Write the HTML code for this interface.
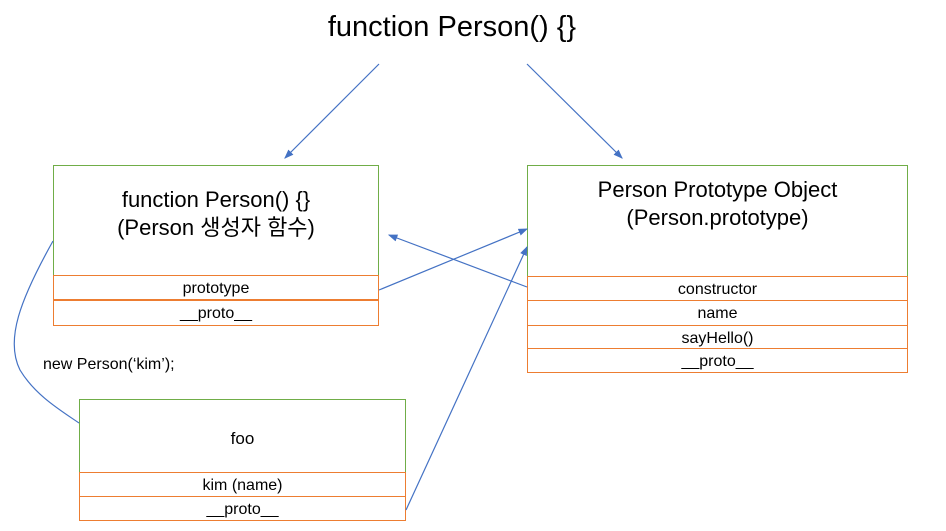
<!DOCTYPE html>
<html><head><meta charset="utf-8"><style>
body{margin:0;width:946px;height:531px;background:#fff;overflow:hidden;position:relative;font-family:"Liberation Sans","Noto Sans CJK KR",sans-serif;color:#000}
.t{position:absolute;white-space:nowrap;text-align:center}
.b{position:absolute;box-sizing:border-box}
.h{border:1px solid #70ad47;border-bottom:none}
.r{border:1px solid #ed7d31;font-size:16px;text-align:center;line-height:22px;padding-top:2px}
</style></head><body>
<div class="t" style="left:0;width:904px;top:11px;font-size:29px">function Person() {}</div>

<div class="b h" style="left:53px;top:165px;width:326px;height:111px"></div>
<div class="t" style="left:53px;width:326px;top:186px;font-size:22px;line-height:28px">function Person() {}<br>(Person 생성자 함수)</div>
<div class="b r" style="left:53px;top:275px;width:326px;height:25px">prototype</div>
<div class="b r" style="left:53px;top:300px;width:326px;height:26px">__proto__</div>

<div class="b h" style="left:527px;top:165px;width:381px;height:112px"></div>
<div class="t" style="left:527px;width:381px;top:176px;font-size:22px;line-height:28px">Person Prototype Object<br>(Person.prototype)</div>
<div class="b r" style="left:527px;top:276px;width:381px;height:25px">constructor</div>
<div class="b r" style="left:527px;top:300px;width:381px;height:26px">name</div>
<div class="b r" style="left:527px;top:325px;width:381px;height:24px">sayHello()</div>
<div class="b r" style="left:527px;top:348px;width:381px;height:25px">__proto__</div>

<div class="b h" style="left:79px;top:399px;width:327px;height:74px"></div>
<div class="t" style="left:79px;width:327px;top:429px;font-size:17px">foo</div>
<div class="b r" style="left:79px;top:472px;width:327px;height:25px">kim (name)</div>
<div class="b r" style="left:79px;top:496px;width:327px;height:25px">__proto__</div>

<div class="t" style="left:43px;top:356px;font-size:16px">new Person(‘kim’);</div>

<svg width="946" height="531" style="position:absolute;left:0;top:0">
<defs><marker id="a" markerWidth="8" markerHeight="8" refX="7" refY="4" orient="auto"><path d="M0,1 L8,4 L0,7z" fill="#4472c4"/></marker></defs>
<g stroke="#4472c4" stroke-width="1.2" fill="none">
<line x1="379" y1="64" x2="285" y2="158" marker-end="url(#a)"/>
<line x1="527" y1="64" x2="622" y2="158" marker-end="url(#a)"/>
<line x1="379" y1="290" x2="527" y2="229" marker-end="url(#a)"/>
<line x1="527" y1="287" x2="389" y2="235" marker-end="url(#a)"/>
<line x1="406" y1="510" x2="527" y2="247" marker-end="url(#a)"/>
<path d="M53,241 C20,300 5,340 20,370 C35,395 60,410 79,423"/>
</g></svg>
</body></html>
